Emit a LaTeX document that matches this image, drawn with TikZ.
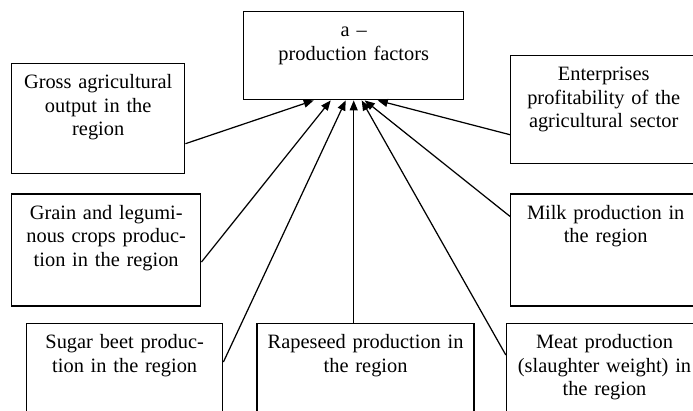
\documentclass[tikz,border=0pt]{standalone}
\usepackage{fontspec}
\setmainfont{Liberation Serif}
\usepackage{tikz}
\usetikzlibrary{arrows.meta, positioning, calc}
\tikzset{
  factorbox/.style={draw, line width=0.8pt, anchor=north west, align=center, inner sep=0pt,
      text height=0.5cm, font=\fontsize{11.6}{13.4}\selectfont},
  factorarrow/.style={-{Triangle[length=2mm, width=1.6mm]}, line width=0.7pt},
}

\begin{document}
\begin{tikzpicture}
      \path[use as bounding box, clip] (0,0) rectangle (13.86,-8.2);
      \node[factorbox, text width=4.4cm, text depth=1.26cm] (fac) at (4.86,-0.22) {a –\\production factors};
      \node[factorbox, text width=3.46cm, text depth=1.7cm] (gross) at (0.22,-1.26) {Gross agricultural\\output in the\\region};
      \node[factorbox, text width=3.72cm, text depth=1.66cm] (ent) at (10.2,-1.1) {Enterprises\\profitability of the\\agricultural sector};
      \node[factorbox, text width=3.78cm, text depth=1.74cm, below=0.38cm of gross.south west, anchor=north west] (grain) {Grain and legumi-\\nous crops produc-\\tion in the region};
      \node[factorbox, text width=3.8cm, text depth=1.74cm, below=0.58cm of ent.south west, anchor=north west] (milk) {Milk production in\\the region};
      \node[factorbox, text width=3.92cm, text depth=1.5cm] (sugar) at (0.52,-6.46) {Sugar beet produc-\\tion in the region};
      \node[factorbox, text width=4.34cm, text depth=1.5cm, right=0.66cm of sugar.north east, anchor=north west] (rape) {Rapeseed production in\\the region};
      \node[factorbox, text width=3.92cm, text depth=1.5cm, right=0.62cm of rape.north east, anchor=north west] (meat) {Meat production\\(slaughter weight) in\\the region};
      \draw[factorarrow] ([yshift=-0.5cm]gross.east) -- ([xshift=-0.8cm]fac.south);
      \draw[factorarrow] ([yshift=-0.24cm]grain.east) -- ([xshift=-0.46cm]fac.south);
      \draw[factorarrow] ([yshift=-0.78cm]sugar.north east) -- ([xshift=-0.16cm]fac.south);
      \draw[factorarrow] (fac.south |- rape.north) -- (fac.south);
      \draw[factorarrow] ([yshift=-0.64cm]meat.north west) -- ([xshift=0.16cm]fac.south);
      \draw[factorarrow] ([yshift=-0.46cm]milk.north west) -- ([xshift=0.22cm]fac.south);
      \draw[factorarrow] ([yshift=-0.5cm]ent.west) -- ([xshift=0.48cm]fac.south);
    \end{tikzpicture}
\end{document}
